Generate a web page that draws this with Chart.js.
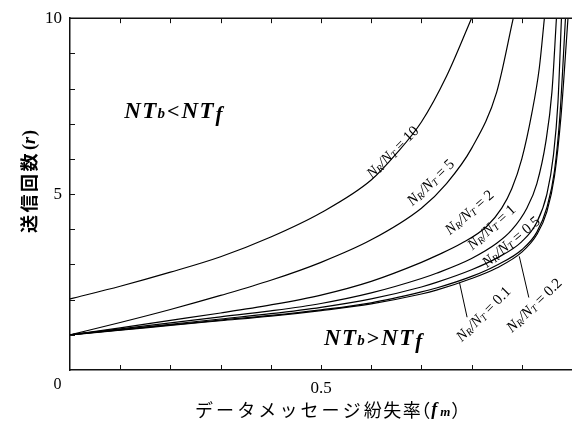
<!DOCTYPE html>
<html><head><meta charset="utf-8">
<script src="https://cdn.jsdelivr.net/npm/chart.js@4/dist/chart.umd.min.js"></script>
<style>
html,body{margin:0;padding:0;background:#fff;overflow:hidden}
#wrap{width:580px;height:424px;position:relative}
</style>
</head><body><div id="wrap"><canvas id="c"></canvas></div>
<script>
// NR/NT ratios for each boundary curve
const ratios = ['10', '5', '2', '1', '0.5', '0.2', '0.1'];

// data message loss rate (fm) and transmission count (r) for each curve
const fm_10 = [0, 0.1, 0.2, 0.3, 0.4, 0.5, 0.6, 0.65, 0.7, 0.75, 0.8];
const r_10  = [2.02, 2.38, 2.78, 3.22, 3.78, 4.47, 5.4, 6.15, 7.05, 8.35, 10.0];

const fm_5 = [0, 0.1, 0.2, 0.3, 0.4, 0.5, 0.6, 0.7, 0.75, 0.8, 0.85, 0.883];
const r_5  = [1.0, 1.35, 1.72, 2.12, 2.55, 3.06, 3.7, 4.6, 5.3, 6.3, 7.9, 10.0];

const fm_2 = [0, 0.1, 0.2, 0.3, 0.4, 0.5, 0.6, 0.7, 0.73, 0.78, 0.83, 0.86, 0.88, 0.9, 0.92, 0.935, 0.945];
const r_2  = [1.0, 1.2, 1.41, 1.62, 1.85, 2.13, 2.52, 3.06, 3.25, 3.6, 4.08, 4.6, 5.15, 6.0, 7.3, 8.6, 10.0];

const fm_1 = [0, 0.1, 0.2, 0.3, 0.4, 0.5, 0.6, 0.7, 0.73, 0.8, 0.85, 0.88, 0.91, 0.93, 0.948, 0.96, 0.969];
const r_1  = [1.0, 1.17, 1.34, 1.51, 1.68, 1.89, 2.19, 2.6, 2.75, 3.17, 3.6, 3.98, 4.6, 5.3, 6.5, 7.9, 10.0];

const fm_05 = [0, 0.1, 0.2, 0.3, 0.4, 0.5, 0.6, 0.7, 0.73, 0.8, 0.85, 0.9, 0.93, 0.95, 0.963, 0.972, 0.979];
const r_05  = [1.0, 1.15, 1.3, 1.45, 1.6, 1.78, 2.02, 2.36, 2.49, 2.85, 3.18, 3.65, 4.2, 5.0, 6.1, 7.6, 10.0];

const fm_02 = [0, 0.1, 0.2, 0.3, 0.4, 0.5, 0.6, 0.7, 0.73, 0.8, 0.85, 0.9, 0.93, 0.95, 0.965, 0.976, 0.987];
const r_02  = [1.0, 1.14, 1.28, 1.42, 1.55, 1.71, 1.91, 2.22, 2.33, 2.66, 2.98, 3.42, 3.92, 4.62, 5.65, 7.25, 10.0];

const fm_01 = [0, 0.1, 0.2, 0.3, 0.4, 0.5, 0.6, 0.7, 0.73, 0.8, 0.85, 0.9, 0.93, 0.95, 0.965, 0.978, 0.992];
const r_01  = [1.0, 1.13, 1.27, 1.4, 1.53, 1.69, 1.88, 2.16, 2.27, 2.6, 2.9, 3.35, 3.85, 4.5, 5.5, 7.2, 10.0];

// labelled tick values
const xLabelled = [0.5];
const yLabelled = [5, 10];

const seriesFm = [fm_10, fm_5, fm_2, fm_1, fm_05, fm_02, fm_01];
const seriesR  = [r_10, r_5, r_2, r_1, r_05, r_02, r_01];

const datasets = ratios.map((k, i) => ({
  label: 'NR/NT = ' + k,
  data: seriesFm[i].map((f, j) => ({x: f, y: seriesR[i][j]})),
  borderColor: '#000',
  borderWidth: 1.2,
  pointRadius: 0,
  fill: false,
  cubicInterpolationMode: 'monotone'
}));

// curve label anchors (data units), rotation in degrees, optional leader line
const curveLabels = [
  {k: '10',  f: 0.642, r: 6.2,  ang: -45, lead: null},
  {k: '5',   f: 0.718, r: 5.34, ang: -44, lead: null},
  {k: '2',   f: 0.795, r: 4.49, ang: -41, lead: null},
  {k: '1',   f: 0.839, r: 4.07, ang: -42, lead: null},
  {k: '0.5', f: 0.878, r: 3.65, ang: -40, lead: null},
  {k: '0.1', f: 0.823, r: 1.6,  ang: -45, lead: [0.776, 2.48, 0.791, 1.5]},
  {k: '0.2', f: 0.924, r: 1.85, ang: -44, lead: [0.895, 3.23, 0.914, 2.06]}
];

const SERIF = '"Liberation Serif", "Times New Roman", serif';
const JP = '"Noto Sans CJK JP", sans-serif';

// measures a run of text pieces; stores each advance on the piece
function runWidth(ctx, parts) {
  let w = 0;
  parts.forEach(p => { ctx.font = p.font; p.w = ctx.measureText(p.t).width + (p.gap || 0); w += p.w; });
  return w;
}
function drawRun(ctx, parts, x0, y0) {
  let cx = x0;
  parts.forEach(p => { ctx.font = p.font; ctx.fillText(p.t, cx, y0 + (p.dy || 0)); cx += p.w; });
}

function drawRatioLabel(ctx, x, y, ang, k) {
  const parts = [
    {t: 'N', font: 'italic 15px ' + SERIF},
    {t: 'R', font: 'italic 10px ' + SERIF, dy: 1.5},
    {t: '/', font: 'italic 15px ' + SERIF},
    {t: 'N', font: 'italic 15px ' + SERIF},
    {t: 'T', font: 'italic 10px ' + SERIF, dy: 1.5},
    {t: ' = ' + k, font: '15px ' + SERIF}
  ];
  const w = runWidth(ctx, parts);
  ctx.save();
  ctx.translate(x, y);
  ctx.rotate(ang * Math.PI / 180);
  ctx.textBaseline = 'alphabetic';
  ctx.textAlign = 'left';
  drawRun(ctx, parts, -w / 2, 5);
  ctx.restore();
}

function drawRegion(ctx, x, y, sign) {
  const big = 'bold italic 23px ' + SERIF;
  const parts = [
    {t: 'N', font: big, gap: 1.5},
    {t: 'T', font: big, gap: 1},
    {t: 'b', font: 'bold italic 15px ' + SERIF, gap: 2},
    {t: sign, font: 'bold 22px ' + SERIF, gap: 2},
    {t: 'N', font: big, gap: 1.5},
    {t: 'T', font: big, gap: 2},
    {t: 'f', font: 'bold italic 21px ' + SERIF, dy: 3}
  ];
  runWidth(ctx, parts);
  ctx.textBaseline = 'alphabetic';
  ctx.textAlign = 'left';
  drawRun(ctx, parts, x, y);
}

const decor = {
  id: 'decor',
  afterDraw(chart) {
    const {ctx, chartArea: a, scales: {x, y}} = chart;
    ctx.save();
    ctx.fillStyle = '#000';
    // frame top line
    ctx.strokeStyle = '#111';
    ctx.lineWidth = 1.5;
    ctx.beginPath();
    ctx.moveTo(a.left, a.top);
    ctx.lineTo(a.right, a.top);
    ctx.stroke();
    // inward tick marks
    ctx.lineWidth = 1;
    ctx.beginPath();
    x.ticks.forEach(t => {
      const px = Math.round(x.getPixelForValue(t.value)) + 0.5;
      if (px <= a.left + 1 || px >= a.right - 1) return;
      ctx.moveTo(px, a.bottom); ctx.lineTo(px, a.bottom - 5);
      ctx.moveTo(px, a.top); ctx.lineTo(px, a.top + 5);
    });
    y.ticks.forEach(t => {
      const py = Math.round(y.getPixelForValue(t.value)) + 0.5;
      if (py <= a.top + 1 || py >= a.bottom - 1) return;
      ctx.moveTo(a.left, py); ctx.lineTo(a.left + 5, py);
    });
    ctx.stroke();
    // origin label
    ctx.font = '16px ' + SERIF;
    ctx.textAlign = 'center';
    ctx.textBaseline = 'middle';
    ctx.fillText('0', a.left - 12.5, a.bottom + 15);
    // curve labels and leader lines
    ctx.strokeStyle = '#000';
    ctx.lineWidth = 1;
    curveLabels.forEach(L => {
      if (L.lead) {
        ctx.beginPath();
        ctx.moveTo(x.getPixelForValue(L.lead[0]), y.getPixelForValue(L.lead[1]));
        ctx.lineTo(x.getPixelForValue(L.lead[2]), y.getPixelForValue(L.lead[3]));
        ctx.stroke();
      }
      drawRatioLabel(ctx, x.getPixelForValue(L.f), y.getPixelForValue(L.r), L.ang, L.k);
    });
    // region labels
    drawRegion(ctx, x.getPixelForValue(0.108), y.getPixelForValue(7.16), '<');
    drawRegion(ctx, x.getPixelForValue(0.506), y.getPixelForValue(0.7), '>');

    // x-axis title, glyph by glyph
    ctx.textAlign = 'left';
    ctx.textBaseline = 'middle';
    ctx.font = '18px ' + JP;
    let tx = 195;
    const ty = 410;
    for (const ch of 'データメッセージ') { ctx.fillText(ch, tx, ty); tx += 21.1; }
    for (const ch of '紛失率') { ctx.fillText(ch, tx, ty); tx += 19.5; }
    ctx.fillText('（', tx - 10, ty);
    tx += 9;
    ctx.font = 'bold italic 18px ' + SERIF;
    ctx.fillText('f', tx, ty);
    tx += 9;
    ctx.font = 'bold italic 13px ' + SERIF;
    ctx.fillText('m', tx, ty + 3);
    tx += 11;
    ctx.font = '18px ' + JP;
    ctx.fillText('）', tx, ty);

    // y-axis title, rotated
    ctx.save();
    ctx.translate(29, 233);
    ctx.rotate(-Math.PI / 2);
    ctx.textBaseline = 'middle';
    ctx.font = 'bold 18px ' + JP;
    let sx = 0;
    for (const ch of '送信回数') { ctx.fillText(ch, sx, 0); sx += 20.5; }
    ctx.font = 'bold 18px ' + SERIF;
    ctx.fillText('(', sx + 1, 1); sx += ctx.measureText('(').width + 1;
    ctx.font = 'bold italic 18px ' + SERIF;
    ctx.fillText('r', sx, 1); sx += ctx.measureText('r').width + 1;
    ctx.font = 'bold 18px ' + SERIF;
    ctx.fillText(')', sx, 1);
    ctx.restore();
    ctx.restore();
  }
};

new Chart(document.getElementById('c'), {
  type: 'line',
  data: {datasets},
  options: {
    responsive: true,
    maintainAspectRatio: false,
    animation: false,
    layout: {padding: {top: 14, right: 3, left: 0, bottom: 0}},
    plugins: {legend: {display: false}, tooltip: {enabled: false}},
    scales: {
      x: {
        type: 'linear', min: 0, max: 1,
        afterFit(s) { s.height = 54; },
        grid: {display: false, drawTicks: false},
        border: {display: true, color: '#111', width: 1.5},
        ticks: {
          stepSize: 0.1, autoSkip: false, maxRotation: 0, padding: 8,
          color: '#000', font: {family: SERIF, size: 17},
          callback: v => xLabelled.some(l => Math.abs(v - l) < 1e-9) ? '0.5' : ''
        }
      },
      y: {
        type: 'linear', min: 0, max: 10,
        afterFit(s) { s.width = 70; },
        grid: {display: false, drawTicks: false},
        border: {display: true, color: '#111', width: 1.5},
        ticks: {
          stepSize: 1, autoSkip: false, padding: 8,
          color: '#000', font: {family: SERIF, size: 17},
          callback: v => yLabelled.includes(v) ? String(v) : ''
        }
      }
    }
  },
  plugins: [decor]
});
</script>
</body></html>
